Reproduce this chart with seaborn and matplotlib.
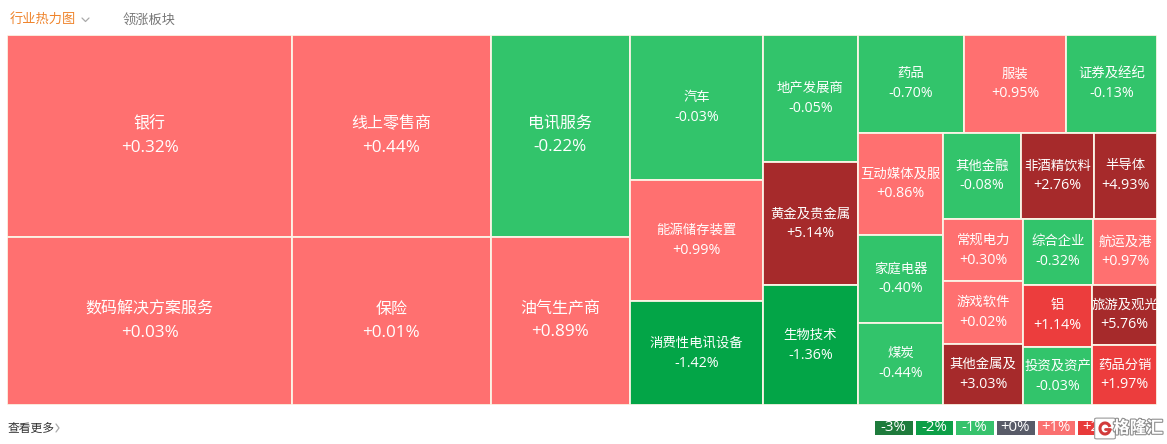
import numpy as np
import matplotlib
matplotlib.use("Agg")
import matplotlib.pyplot as plt
import matplotlib.patheffects as pe
from matplotlib.colors import ListedColormap
from matplotlib.patches import Rectangle, FancyBboxPatch, Arc
from matplotlib.lines import Line2D
import seaborn as sns

sns.set_theme(style="white")
plt.rcParams["font.family"] = ["Open Sans", "Noto Sans CJK SC", "DejaVu Sans"]
plt.rcParams["axes.unicode_minus"] = False

# ── 数据: 板块 / 涨跌幅(%) / 市值权重 ──
sectors = ["银行", "数码解决方案服务", "线上零售商", "保险", "电讯服务", "油气生产商",
           "汽车", "能源储存装置", "消费性电讯设备", "地产发展商", "黄金及贵金属", "生物技术",
           "药品", "服装", "证券及经纪", "互动媒体及服", "家庭电器", "煤炭",
           "其他金融", "非酒精饮料", "半导体", "常规电力", "游戏软件", "其他金属及",
           "综合企业", "航运及港", "铝", "投资及资产", "旅游及观光", "药品分销"]
changes = [0.32, 0.03, 0.44, 0.01, -0.22, 0.89,
           -0.03, 0.99, -1.42, -0.05, 5.14, -1.36,
           -0.70, 0.95, -0.13, 0.86, -0.40, -0.44,
           -0.08, 2.76, 4.93, 0.30, 0.02, 3.03,
           -0.32, 0.97, 1.14, -0.03, 5.76, 1.97]
weights = [576, 479, 402, 334, 281, 234,
           193, 161, 138, 121, 117, 114,
           104, 100, 89, 87, 75, 70,
           67, 63, 54, 50, 50, 49,
           46, 42, 43, 40, 39, 39]

legend_labels = ["-3%", "-2%", "-1%", "+0%", "+1%", "+2%"]
legend_colors = ["#1E7B3C", "#0C9F47", "#36C26C", "#585B68", "#FA7070", "#E83A3A"]

LIGHT_RED, RED, DARK_RED = "#FF7070", "#EC3D3D", "#A62A2B"
LIGHT_GREEN, GREEN, DARK_GREEN = "#32C46B", "#03A547", "#1E7B3C"
BORDER = "#FBF4E6"


def tile_color(v):
    if v >= 2: return DARK_RED
    if v >= 1: return RED
    if v >= 0: return LIGHT_RED
    if v > -1: return LIGHT_GREEN
    if v > -2: return GREEN
    return DARK_GREEN


# ── squarify 布局 ──
def layout_part(sizes, x, y, dx, dy):
    covered = sum(sizes)
    out = []
    if dx >= dy:
        w = covered / dy
        for s in sizes:
            out.append((x, y, w, s / w)); y += s / w
    else:
        h = covered / dx
        for s in sizes:
            out.append((x, y, s / h, h)); x += s / h
    return out


def leftover(sizes, x, y, dx, dy):
    covered = sum(sizes)
    if dx >= dy:
        w = covered / dy
        return x + w, y, dx - w, dy
    h = covered / dx
    return x, y + h, dx, dy - h


def worst(sizes, x, y, dx, dy):
    return max(max(w / h, h / w) for _, _, w, h in layout_part(sizes, x, y, dx, dy))


def squarify(sizes, x, y, dx, dy):
    if not sizes:
        return []
    if len(sizes) == 1:
        return layout_part(sizes, x, y, dx, dy)
    i = 1
    while i < len(sizes) and worst(sizes[:i], x, y, dx, dy) >= worst(sizes[:i + 1], x, y, dx, dy):
        i += 1
    cur, rest = sizes[:i], sizes[i:]
    return layout_part(cur, x, y, dx, dy) + squarify(rest, *leftover(cur, x, y, dx, dy))


W, H = 1150, 370
FW, FH = 1167, 444
total = sum(weights)
norm = [w * W * H / total for w in weights]
rects = squarify(norm, 0, 0, W, H)

fig = plt.figure(figsize=(FW / 100, FH / 100), dpi=100)
ax = fig.add_axes([7 / FW, (FH - 405) / FH, W / FW, H / FH])
ax.set_xlim(0, W); ax.set_ylim(H, 0)
ax.axis("off")

for (x, y, w, h), name, v in zip(rects, sectors, changes):
    r = Rectangle((x, y), w, h, facecolor=tile_color(v), edgecolor=BORDER, linewidth=1.3)
    ax.add_patch(r)
    big = w * h > 21000
    fs, off = (11.5, 11.5) if big else (9.6, 10)
    cx, cy = x + w / 2, y + h / 2
    for txt, dy, size in [(name, -off, fs), (f"{v:+.2f}%", off, fs * 1.07)]:
        t = ax.text(cx, cy + dy, txt, ha="center", va="center", color="white", fontsize=size)
        t.set_clip_path(r)

# ── 顶部标签 ──
fig.text(10 / FW, 1 - 20 / FH, "行业热力图", color="#EF842C", fontsize=9.5, va="center")
fig.add_artist(Line2D([82 / FW, 85.5 / FW, 89 / FW], [1 - 18 / FH, 1 - 21.5 / FH, 1 - 18 / FH],
                      color="#AAAAAA", lw=0.9))
fig.text(123 / FW, 1 - 20 / FH, "领涨板块", color="#777777", fontsize=9.5, va="center")

# ── 底部 ──
fig.text(8 / FW, 1 - 428 / FH, "查看更多", color="#333333", fontsize=8.5, va="center")
fig.add_artist(Line2D([56 / FW, 59 / FW, 56 / FW], [1 - 424 / FH, 1 - 428 / FH, 1 - 432 / FH],
                      color="#AAAAAA", lw=0.9))

# 图例 (seaborn heatmap)
lax = fig.add_axes([873 / FW, (FH - 436) / FH, 244 / FW, 17 / FH])
sns.heatmap(np.arange(len(legend_labels)).reshape(1, -1), ax=lax,
            cmap=ListedColormap(legend_colors), cbar=False,
            annot=np.array([legend_labels]), fmt="", linewidths=1, linecolor="white",
            annot_kws={"color": "white", "fontsize": 10.8},
            xticklabels=False, yticklabels=False)

# 水印 logo (图形 + 文字)
icon = FancyBboxPatch((1097 / FW, 1 - 438 / FH), 16 / FW, 19 / FH,
                      boxstyle="round,pad=0.002", transform=fig.transFigure,
                      facecolor="white", edgecolor="#9A9A9A", lw=0.8, zorder=5)
fig.add_artist(icon)
fig.add_artist(Arc((1105 / FW, 1 - 428.5 / FH), 10 / FW, 11 / FH, theta1=40, theta2=330,
                   transform=fig.transFigure, color="#D23B3B", lw=2.2, zorder=6))
fig.add_artist(Line2D([1105 / FW, 1110 / FW], [1 - 429 / FH, 1 - 429 / FH],
                      color="#D23B3B", lw=2.0, zorder=6))
fig.text(1138 / FW, 1 - 428 / FH, "格隆汇", color="white", fontsize=12, fontweight="bold",
         ha="center", va="center", zorder=6,
         path_effects=[pe.withStroke(linewidth=1.6, foreground="#8E8E8E")])

fig.savefig("out.png", dpi=100)
